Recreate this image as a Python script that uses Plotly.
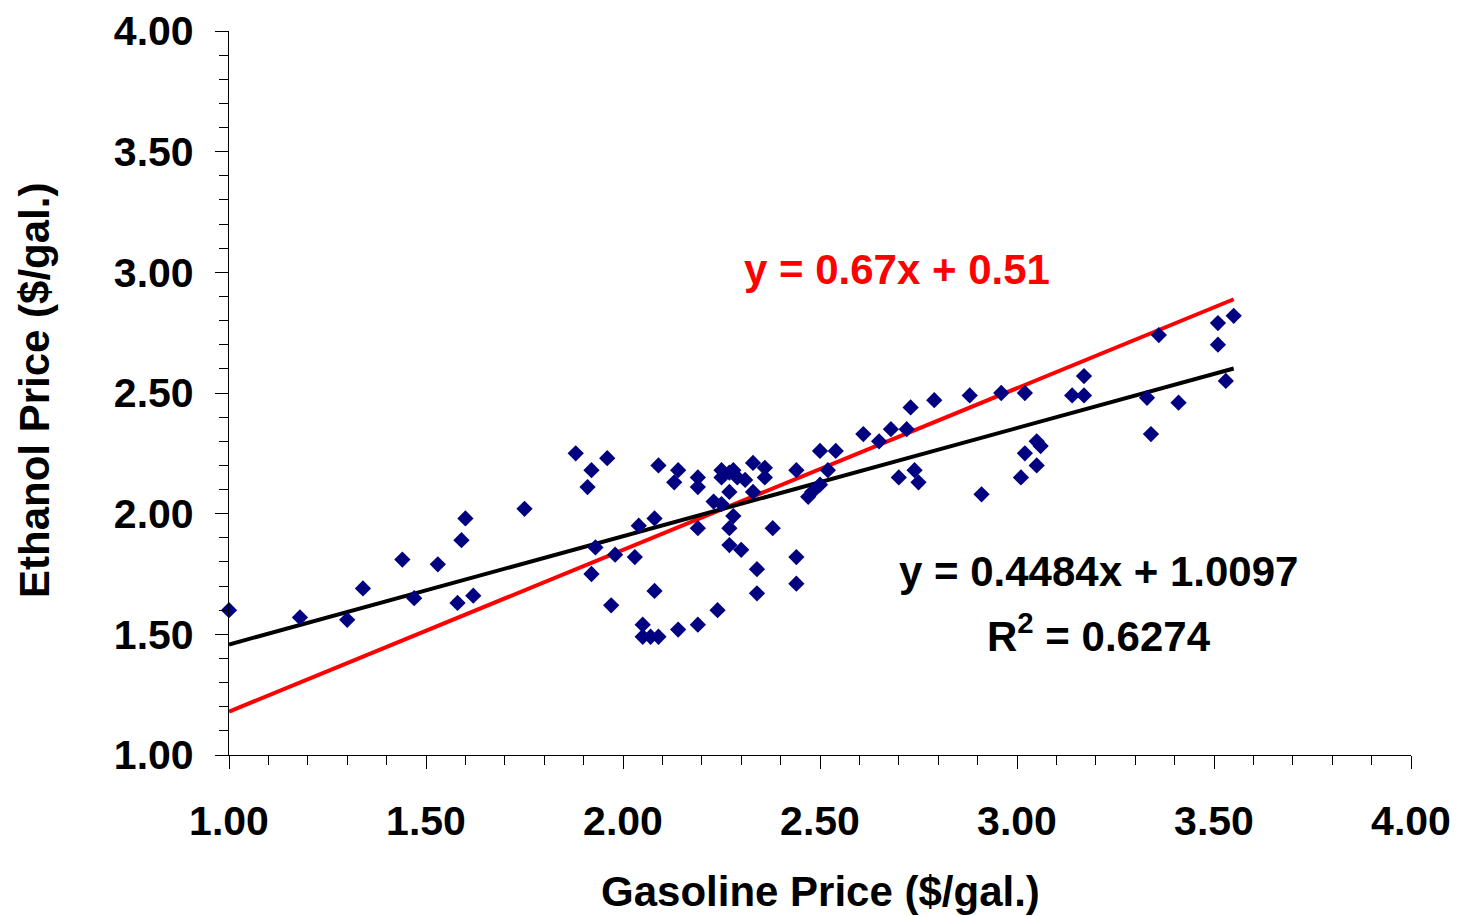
import plotly.graph_objects as go

# Gasoline price ($/gal.) and ethanol price ($/gal.) pairs
gasoline = [1.00, 1.18, 1.30, 1.34, 1.44, 1.47, 1.53, 1.58, 1.62, 1.59, 1.60, 1.75,
            1.88, 1.96, 1.92, 1.91, 1.93, 1.92, 1.98, 1.97, 2.03, 2.04, 2.05, 2.05,
            2.07, 2.09, 2.08, 2.08, 2.09, 2.14, 2.14, 2.13, 2.19, 2.19, 2.19, 2.19,
            2.24, 2.23, 2.25, 2.25, 2.27, 2.28, 2.29, 2.31, 2.33, 2.36, 2.36, 2.33,
            2.27, 2.25, 2.28, 2.27, 2.27, 2.30, 2.38, 2.34, 2.34, 2.44, 2.44, 2.44,
            2.50, 2.54, 2.52, 2.50, 2.48, 2.47, 2.61, 2.65, 2.68, 2.72, 2.73, 2.79,
            2.88, 2.96, 3.02, 2.70, 2.74, 2.75, 2.91, 3.01, 3.02, 3.05, 3.05, 3.06,
            3.14, 3.17, 3.17, 3.33, 3.34, 3.36, 3.41, 3.51, 3.51, 3.55, 3.53]
ethanol = [1.60, 1.57, 1.56, 1.69, 1.81, 1.65, 1.79, 1.63, 1.66, 1.89, 1.98, 2.02,
           2.25, 2.23, 2.18, 2.11, 1.86, 1.75, 1.83, 1.62, 1.82, 1.95, 1.54, 1.49,
           1.49, 1.49, 1.98, 1.68, 2.20, 1.52, 2.18, 2.13, 1.54, 1.94, 2.15, 2.11,
           1.60, 2.05, 2.18, 2.15, 2.17, 2.18, 2.15, 2.14, 2.21, 2.19, 2.15, 2.09,
           2.09, 2.04, 1.99, 1.94, 1.87, 1.85, 1.94, 1.77, 1.67, 1.82, 1.71, 2.18,
           2.26, 2.26, 2.18, 2.12, 2.09, 2.07, 2.33, 2.30, 2.35, 2.35, 2.44, 2.47,
           2.49, 2.50, 2.50, 2.15, 2.18, 2.13, 2.08, 2.15, 2.25, 2.20, 2.30, 2.28,
           2.49, 2.49, 2.57, 2.48, 2.33, 2.74, 2.46, 2.79, 2.70, 2.82, 2.55]

# Trend line coefficients (slope, intercept)
fit_black = [0.4484, 1.0097]
fit_red = [0.67, 0.51]
r_squared = 0.6274

tick_vals = [1.0, 1.5, 2.0, 2.5, 3.0, 3.5, 4.0]
tick_text = ["1.00", "1.50", "2.00", "2.50", "3.00", "3.50", "4.00"]

x_line = [min(gasoline), max(gasoline)]
y_black = [fit_black[0] * v + fit_black[1] for v in x_line]
y_red = [fit_red[0] * v + fit_red[1] for v in x_line]

FONT = "Liberation Sans, Arial, sans-serif"

fig = go.Figure()
fig.add_trace(go.Scatter(x=x_line, y=y_red, mode="lines",
                         line=dict(color="#FF0000", width=4), hoverinfo="skip"))
fig.add_trace(go.Scatter(x=x_line, y=y_black, mode="lines",
                         line=dict(color="#000000", width=4), hoverinfo="skip"))
fig.add_trace(go.Scatter(x=gasoline, y=ethanol, mode="markers", cliponaxis=False,
                         marker=dict(symbol="diamond", size=12.5, color="#000080",
                                     line=dict(width=0))))

axis_common = dict(
    tickvals=tick_vals, ticktext=tick_text, range=[1, 4], automargin=False,
    showgrid=False, zeroline=False, showline=True, linecolor="#000000", linewidth=1.3,
    ticks="outside", ticklen=13, tickwidth=1.3, tickcolor="#000000",
    minor=dict(dtick=0.1, ticks="outside", ticklen=9, tickwidth=1, tickcolor="#000000"),
    tickfont=dict(family=FONT, size=41, color="#000000", weight="bold"),
)

fig.update_layout(
    width=1458, height=916,
    margin=dict(l=229, r=47, t=31, b=161),
    paper_bgcolor="white", plot_bgcolor="white",
    showlegend=False,
    font=dict(family=FONT, color="#000000"),
    xaxis=dict(**axis_common, ticklabelstandoff=17),
    yaxis=dict(**axis_common, ticklabelstandoff=13),
    annotations=[
        dict(text="<b>Gasoline Price ($/gal.)</b>", xref="paper", yref="paper",
             x=0.5, y=-0.188, xanchor="center", yanchor="middle", showarrow=False,
             font=dict(family=FONT, size=42, color="#000000")),
        dict(text="<b>Ethanol Price ($/gal.)</b>", xref="paper", yref="paper",
             x=-0.164, y=0.503, xanchor="center", yanchor="middle", showarrow=False,
             textangle=-90, font=dict(family=FONT, size=42, color="#000000")),
        dict(text="<b>y = 0.67x + 0.51</b>", xref="x", yref="y",
             x=2.695, y=3.01, xanchor="center", yanchor="middle", showarrow=False,
             font=dict(family=FONT, size=42, color="#FF0000")),
        dict(text="<b>y = 0.4484x + 1.0097</b>", xref="x", yref="y",
             x=3.208, y=1.76, xanchor="center", yanchor="middle", showarrow=False,
             font=dict(family=FONT, size=42, color="#000000")),
        dict(text="<b>R<sup>2</sup> = %.4f</b>" % r_squared, xref="x", yref="y",
             x=3.208, y=1.505, xanchor="center", yanchor="middle", showarrow=False,
             font=dict(family=FONT, size=42, color="#000000")),
    ],
)

fig.write_html("out.html", config={"displayModeBar": False},
               post_script="document.body.style.margin='0';document.body.style.overflow='hidden';")
